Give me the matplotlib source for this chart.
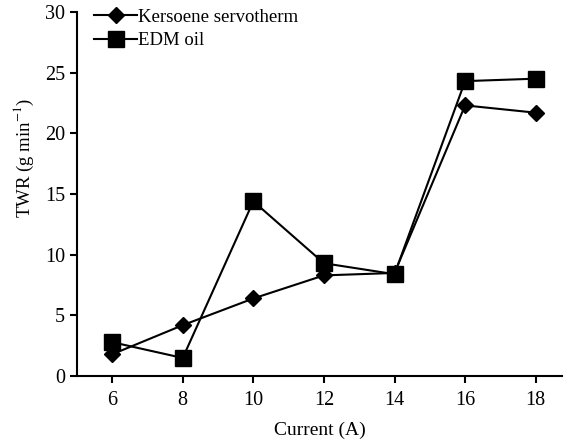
import matplotlib
matplotlib.use('Agg')
import matplotlib.pyplot as plt

plt.rcParams['font.family'] = ['Liberation Serif', 'DejaVu Serif']
plt.rcParams['mathtext.fontset'] = 'stix'

current = [6, 8, 10, 12, 14, 16, 18]
kerosene = [1.8, 4.2, 6.4, 8.3, 8.5, 22.3, 21.7]
edm_oil = [2.8, 1.5, 14.4, 9.3, 8.4, 24.3, 24.5]

fig = plt.figure(figsize=(5.65, 4.41), dpi=100)
ax = fig.add_axes([0.136, 0.147, 0.859, 0.826])

ax.plot(current, kerosene, color='black', linewidth=1.5, marker='D',
        markersize=8.5, label='Kersoene servotherm')
ax.plot(current, edm_oil, color='black', linewidth=1.5, marker='s',
        markersize=11, label='EDM oil')

ax.set_xlim(5, 18.75)
ax.set_ylim(0, 30)
ax.set_xticks(current)
ax.set_yticks([0, 5, 10, 15, 20, 25, 30])
ax.spines['top'].set_visible(False)
ax.spines['right'].set_visible(False)
ax.spines['left'].set_linewidth(1.5)
ax.spines['bottom'].set_linewidth(1.5)
ax.tick_params(direction='out', length=5, width=1.5, labelsize=14.5)
ax.tick_params(axis='x', pad=6)

ax.set_xlabel('Current (A)', fontsize=14, labelpad=8)
ax.set_ylabel('TWR (g min$^{-1}$)', fontsize=13.5)
ax.yaxis.set_label_coords(-0.085, 0.60)

ax.legend(loc='upper left', frameon=False, fontsize=13.5, handlelength=2.3,
          handletextpad=0.05, borderaxespad=0.0, labelspacing=0.35,
          bbox_to_anchor=(0.02, 1.03))

fig.savefig('out.png', dpi=100)
